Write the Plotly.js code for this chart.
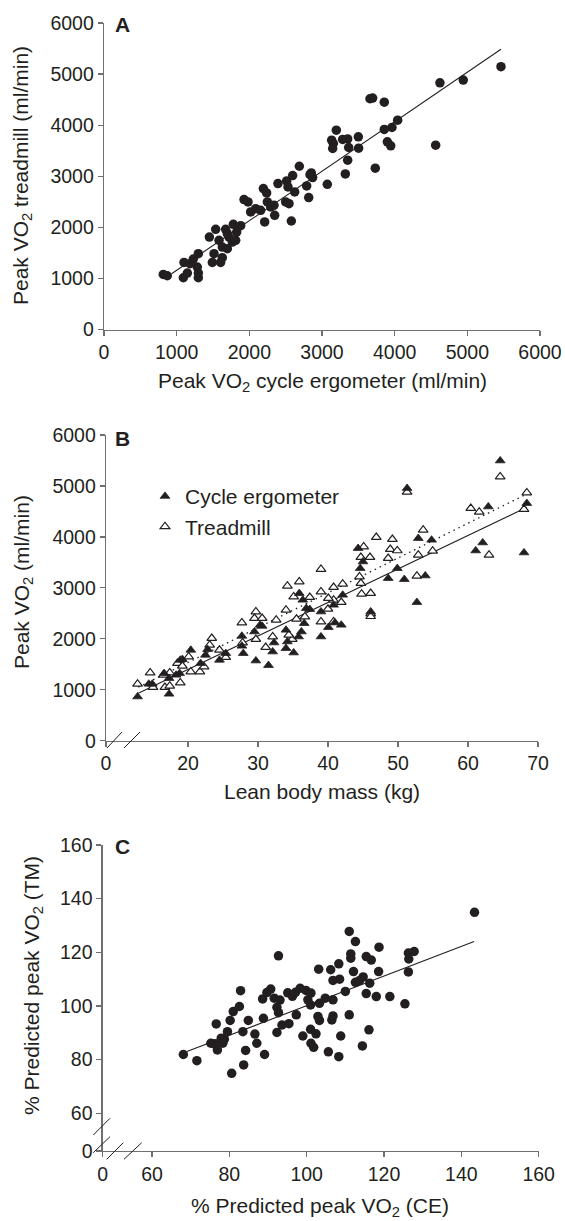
<!DOCTYPE html>
<html>
<head>
<meta charset="utf-8">
<script src="https://cdn.plot.ly/plotly-3.0.1.min.js"></script>
<style>html,body{margin:0;padding:0;background:#fff;}#chart{width:565px;height:1221px;}</style>
</head>
<body>
<div id="chart"></div>
<script>
// ---------- Panel A: peak VO2 cycle ergometer vs treadmill (ml/min) ----------
const aCycle = [816,871,1092,1147,1298,1298,1284,1101,1183,1229,1298,1491,1605,1514,1628,1450,1537,1583,1628,1697,1674,1720,1766,1812,1780,1826,1881,1697,1927,1982,2018,2087,2156,2193,2238,2211,2248,2294,2349,2339,2394,2514,2596,2532,2624,2500,2546,2578,2688,2789,2853,2871,2817,3073,3156,3147,2835,3133,3197,3284,3353,3367,3500,3504,3353,3321,3660,3697,3857,3733,3857,3963,4041,3899,3946,4564,4623,4944,5463];
const aTread = [1078,1052,1013,1105,1013,1105,1222,1314,1288,1379,1484,1314,1314,1484,1405,1810,1961,1745,1614,1582,1961,1810,1712,1745,2059,1908,2033,1876,2543,2497,2301,2366,2333,2759,2674,2105,2497,2399,2236,2432,2857,2909,3014,2791,2693,2497,2464,2124,3196,2810,3065,2975,2582,2843,3641,3543,3030,3706,3902,3720,3730,3563,3771,3550,3314,3046,4517,4530,4451,3157,3916,3955,4098,3673,3595,3608,4830,4883,5144];
const aFitX = [930, 5463];
const aFitY = [1092, 5485];

// ---------- Panel B: peak VO2 vs lean body mass ----------
const bCycleLBM = [12.8,14.4,14.9,17.3,16.6,17.3,18.3,18.8,18.9,19.2,20.4,21.8,22.5,22.8,24.5,25.4,27.7,27.7,27.9,29.7,31.5,29.5,30.3,30.6,32.1,32.3,34,34.2,34,35.1,35.8,36.2,35.9,36.4,36.9,36.6,37.4,39,39,
  64.6,51.3,62.9,68.4,62.1,61.1,68,52.9,54.8,44.3,45,44.6,49.9,48.6,50.9,53.9,52.7,42.1,40.8,40.05,41.9,41,46.1];
const bCycleVO2 = [864,1113,1113,917,1323,1225,1290,1323,1584,1597,1780,1519,1682,1794,1584,1715,2055,1859,1715,1570,1480,2140,2271,2250,1747,1924,2173,1944,1814,1727,2042,2140,2893,2762,2599,2304,2579,2042,2532,
  5496,4955,4594,4660,3887,3730,3691,3973,3940,3777,3514,3384,3384,3188,3168,3239,2717,2860,2664,2226,2271,2316,2532];
const bTreadLBM = [12.8,14.6,15,16.5,16.7,17.4,17.4,18.9,18.5,19.2,20.1,20.4,21.7,22.3,23.4,23.1,24.5,25.4,27.7,27.8,29.7,29.5,30.6,29.7,31.1,32.1,32.6,34.2,35.9,35.1,34,36.7,35.5,34.9,34.4,37.4,39,39,39,
  64.6,51.3,68.4,68,60.4,61.6,63,53.6,54.95,52.9,49.2,48.9,49.9,48.6,46.9,45.1,44.7,46,44.5,44.7,44.8,46.1,52.7,46.1,46.1,42.1,40.8,41.9,40.8,40.05,40,40.8];
const bTreadVO2 = [1113,1335,1048,1290,1048,1335,1075,1139,1519,1466,1649,1354,1354,1453,2010,1879,1780,1637,2316,1924,2532,2403,2403,1990,1833,2042,2369,3037,3121,2827,2566,2434,2388,1990,2075,2815,3365,2925,2336,
  5182,4880,4868,4542,4562,4489,3645,4136,3724,3645,3953,3757,3731,3580,3993,3808,3600,3600,3219,3090,2880,2893,3233,2490,2440,3076,3011,2717,2762,2795,2584,2336];
const bCycleFitX = [12.9, 68.4];
const bCycleFitY = [930, 4581];
const bTreadFitX = [12.9, 68.6];
const bTreadFitY = [1050, 4856];
const bSeriesNames = ['Cycle ergometer', 'Treadmill'];

// ---------- Panel C: % predicted peak VO2, CE vs TM ----------
const cCE = [68.1,71.6,80.6,75.2,76.2,76.9,76.6,77.9,78.7,78.3,79.5,80.2,81,82.6,82.9,83.5,83.7,84.2,84.9,86.6,87.1,88.8,89.1,88.6,89.7,90.7,91.6,93.1,92.7,92.3,92.7,92.3,93.6,95.4,95.1,96.3,97.1,97.3,98.3,99,99.8,100.3,101.1,101,101,101.1,101.8,102.4,102.9,103.3,103.1,103.3,104.8,105.6,106.2,106.8,106.8,106.8,106.5,108.3,108.5,108.3,108.8,110,111,111,111.4,111.4,112.1,112.6,112.6,113.7,114.6,114.4,115.4,115.4,116.7,116.1,116.3,118,118.7,118.6,121.5,125.4,126.3,126.4,126.3,127.8,143.4];
const cTM = [81.9,79.6,74.9,86.1,85.9,83.6,93.3,88,87.6,86.1,90.4,94.6,97.9,99.8,105.7,90.4,78,83.4,94.6,89.5,86.1,95.4,81.9,102.6,105,106.3,102.9,102.2,118.7,99.5,97.5,90.1,92.9,93.4,104.9,103.6,105.1,96.7,106.6,88.8,105.8,102.3,104.8,100.4,91.3,86.1,84.6,89.6,96.1,94.6,113.7,101,102.9,82.9,113.5,109.5,102.3,96.3,94.8,115.7,110,81.1,88.8,105.4,127.8,96.7,119.4,117.8,112.8,124,108.8,109.5,110.8,85.1,104.6,118.4,117.1,91.1,108.5,103.5,121.9,112.8,103.5,100.8,112.7,117.5,119.7,120.3,134.9];
const cFitX = [69, 143.3];
const cFitY = [83, 124];

// tick labels
const aTicks = [0,1000,2000,3000,4000,5000,6000];
const bXTickVals = [20,30,40,50,60,70];
const bYTicks = [0,1000,2000,3000,4000,5000,6000];
const cTickVals = [60,80,100,120,140,160];

// ---------- layout helpers ----------
const W = 565, H = 1221;
const px = x => x / W;
const py = y => 1 - y / H;
const INK = '#231f20';
const AXC = '#707070';
const FONT = 'Liberation Sans, Arial, sans-serif';

function axis(extra) {
  return Object.assign({
    showline: true, linecolor: AXC, linewidth: 1.3,
    ticks: 'outside', ticklen: 5, tickwidth: 1.2, tickcolor: AXC,
    showgrid: false, zeroline: false, fixedrange: true,
    tickfont: {family: FONT, size: 19.5, color: INK}
  }, extra);
}

const bXMin = 8.29, cXMin = 47.24, cYMin = 45.93;

const dot = {color: INK, size: 9.5};
const traces = [
  {x: aCycle, y: aTread, type: 'scatter', mode: 'markers', marker: dot, xaxis: 'x', yaxis: 'y', showlegend: false},
  {x: aFitX, y: aFitY, type: 'scatter', mode: 'lines', line: {color: INK, width: 1.1}, xaxis: 'x', yaxis: 'y', showlegend: false},

  {x: bCycleFitX, y: bCycleFitY, type: 'scatter', mode: 'lines', line: {color: INK, width: 1.1}, xaxis: 'x2', yaxis: 'y2', showlegend: false},
  {x: bTreadFitX, y: bTreadFitY, type: 'scatter', mode: 'lines', line: {color: INK, width: 1.3, dash: '1.5px,4px'}, xaxis: 'x2', yaxis: 'y2', showlegend: false},
  {x: bTreadLBM, y: bTreadVO2, type: 'scatter', mode: 'markers', name: bSeriesNames[1],
   marker: {symbol: 'triangle-up', size: 8.5, color: '#ffffff', line: {color: INK, width: 1.2}}, xaxis: 'x2', yaxis: 'y2'},
  {x: bCycleLBM, y: bCycleVO2, type: 'scatter', mode: 'markers', name: bSeriesNames[0],
   marker: {symbol: 'triangle-up', size: 8.5, color: INK, line: {color: INK, width: 0.8}}, xaxis: 'x2', yaxis: 'y2'},

  {x: cCE, y: cTM, type: 'scatter', mode: 'markers', marker: dot, xaxis: 'x3', yaxis: 'y3', showlegend: false},
  {x: cFitX, y: cFitY, type: 'scatter', mode: 'lines', line: {color: INK, width: 1.1}, xaxis: 'x3', yaxis: 'y3', showlegend: false}
];

function brk(x0, y0, x1, y1) {
  return {type: 'line', xref: 'paper', yref: 'paper', x0: px(x0), y0: py(y0), x1: px(x1), y1: py(y1),
          line: {color: INK, width: 1}};
}

function ann(text, x, y, opts) {
  return Object.assign({text: text, xref: 'paper', yref: 'paper', x: px(x), y: py(y),
    showarrow: false, xanchor: 'center', yanchor: 'middle',
    font: {family: FONT, size: 21, color: INK}}, opts || {});
}

const layout = {
  width: W, height: H,
  margin: {l: 0, r: 0, t: 0, b: 0},
  paper_bgcolor: '#ffffff', plot_bgcolor: 'rgba(0,0,0,0)',
  font: {family: FONT, color: INK},
  xaxis: axis({domain: [px(104), px(540)], range: [0, 6000], tickvals: aTicks, anchor: 'y'}),
  yaxis: axis({domain: [py(329.5), py(23)], range: [0, 6000], tickvals: aTicks, anchor: 'x'}),
  xaxis2: axis({domain: [px(106), px(538)], range: [bXMin, 70],
    tickvals: [bXMin].concat(bXTickVals), ticktext: ['0'].concat(bXTickVals.map(String)), anchor: 'y2'}),
  yaxis2: axis({domain: [py(740.7), py(435)], range: [0, 6000], tickvals: bYTicks, anchor: 'x2'}),
  xaxis3: axis({domain: [px(102.7), px(538.7)], range: [cXMin, 160],
    tickvals: [cXMin].concat(cTickVals), ticktext: ['0'].concat(cTickVals.map(String)), anchor: 'y3'}),
  yaxis3: axis({domain: [py(1151), py(845)], range: [cYMin, 160],
    tickvals: [cYMin].concat(cTickVals), ticktext: ['0'].concat(cTickVals.map(String)), anchor: 'x3'}),
  showlegend: true,
  legend: {x: px(145), y: py(476), xanchor: 'left', yanchor: 'top', bgcolor: 'rgba(0,0,0,0)',
    font: {family: FONT, size: 21, color: INK}, traceorder: 'reversed', itemwidth: 30, tracegroupgap: 0},
  annotations: [
    ann('<b>A</b>', 113, 24, {xanchor: 'left'}),
    ann('<b>B</b>', 113, 439, {xanchor: 'left'}),
    ann('<b>C</b>', 113, 846, {xanchor: 'left'}),
    ann('Peak VO<sub>2</sub> cycle ergometer (ml/min)', 322, 382),
    ann('Peak VO<sub>2</sub> treadmill (ml/min)', 22, 176, {textangle: -90}),
    ann('Lean body mass (kg)', 322, 791),
    ann('Peak VO<sub>2</sub> (ml/min)', 23, 582, {textangle: -90}),
    ann('% Predicted peak VO<sub>2</sub> (CE)', 320, 1207),
    ann('% Predicted peak VO<sub>2</sub> (TM)', 33, 986, {textangle: -90})
  ],
  shapes: [
    brk(107, 748, 122, 732), brk(124, 748, 140, 732),
    brk(93.3, 1135, 110, 1118.3), brk(93.3, 1152.7, 110, 1136.7),
    brk(106.7, 1159.3, 123.3, 1142.7), brk(124, 1159.3, 141.7, 1142.7)
  ]
};

Plotly.newPlot('chart', traces, layout, {staticPlot: true, displayModeBar: false});
</script>
</body>
</html>
